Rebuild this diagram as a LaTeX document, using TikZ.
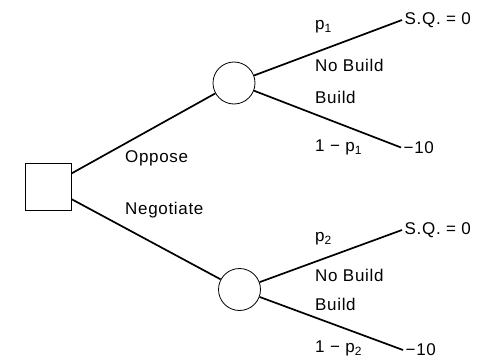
\documentclass[tikz,border=0pt]{standalone}
\usepackage{fontspec}
\setmainfont{Liberation Sans}[LetterSpace=4]
\newcommand{\mysub}[1]{\raisebox{-0.35ex}{\fontsize{12}{12}\selectfont #1}}
\begin{document}
\begin{tikzpicture}[x=1pt,y=-1pt,
  every node/.style={font=\fontsize{17}{20}\selectfont},
  branch/.style={line width=1.7pt},
  lbl/.style={anchor=west,inner sep=0pt},
  chance/.style={circle,draw,line width=0.8pt,minimum size=42pt,inner sep=0pt},
  decision/.style={rectangle,draw,line width=1pt,minimum width=46pt,minimum height=47pt,inner sep=0pt},
  outcome/.style={anchor=west,inner sep=2.5pt}]
\useasboundingbox (0,0) rectangle (480,364);
\node[decision] (d) at (48,186.5) {};
\node[chance] (c1) at (234,83) {};
\node[chance] (c2) at (239.5,289.5) {};
\node[outcome] (o1) at (402,20) {S.Q. = 0};
\node[outcome] (o2) at (401,147.5) {−10};
\node[outcome] (o3) at (402,230) {S.Q. = 0};
\node[outcome] (o4) at (403,350) {−10};
\draw[branch] (d) -- (c1);
\draw[branch] (d) -- (c2);
\draw[branch] (c1) -- (o1.west);
\draw[branch] (c1) -- (o2.west);
\draw[branch] (c2) -- (o3.west);
\draw[branch] (c2) -- (o4.west);
\node[lbl] (la) at (125,158) {Oppose};
\node[lbl] (lb) at (125,210) {Negotiate};
\node[lbl] (p1) at (315,27) {p\mysub{1}};
\node[lbl] (nb1) at (315,65) {No Build};
\node[lbl] (b1) at (315,97) {Build};
\node[lbl] (q1) at (315,147) {1 − p\mysub{1}};
\node[lbl] (p2) at (315,239) {p\mysub{2}};
\node[lbl] (nb2) at (315,275) {No Build};
\node[lbl] (b2) at (315,304) {Build};
\node[lbl] (q2) at (315,348) {1 − p\mysub{2}};
\end{tikzpicture}
\end{document}
